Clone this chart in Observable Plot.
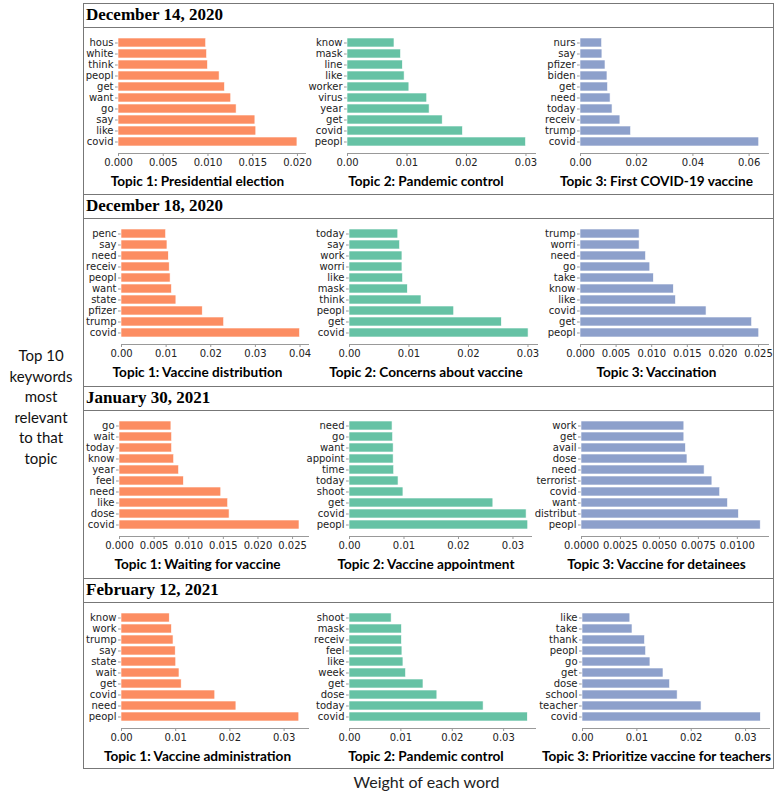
<!DOCTYPE html>
<html><head><meta charset="utf-8">
<script src="https://cdn.jsdelivr.net/npm/d3@7"></script>
<script src="https://cdn.jsdelivr.net/npm/@observablehq/plot@0.6"></script>
<style>
body{margin:0;background:#fff;}
#root{position:relative;width:777px;height:800px;overflow:hidden;font-family:Lato,"Open Sans",sans-serif;color:#111;}
.box{position:absolute;border:1px solid #777;box-sizing:border-box;}
.hline{position:absolute;height:0;border-top:1px solid #777;}
.date{position:absolute;font-family:"Liberation Serif","Times New Roman",serif;font-weight:bold;font-size:17px;line-height:22px;color:#000;}
.title{position:absolute;font-weight:bold;font-size:13.6px;line-height:16px;text-align:center;white-space:nowrap;color:#000;}
.panel{position:absolute;overflow:visible;}
#root svg [aria-label$="tick"]{stroke:#999;}
#root svg [aria-label$="line"], #root svg [aria-label="frame"]{stroke:#999;}
.side{position:absolute;left:0;width:82px;text-align:center;font-size:15px;line-height:20.6px;color:#111;}
.xlab{position:absolute;font-size:16px;color:#222;white-space:nowrap;text-align:center;}
</style></head><body><div id="root"></div><script>
// ---- data ----
const dates = ["December 14, 2020", "December 18, 2020", "January 30, 2021", "February 12, 2021"];
const topicColors = ["#fc8d62", "#66c2a5", "#8da0cb"];

const dec14Titles = ["Topic 1: Presidential election", "Topic 2: Pandemic control", "Topic 3: First COVID-19 vaccine"];
const dec14T1Words = ["hous", "white", "think", "peopl", "get", "want", "go", "say", "like", "covid"];
const dec14T1Values = [0.0098, 0.0099, 0.0100, 0.0113, 0.0119, 0.0126, 0.0132, 0.0153, 0.0154, 0.0200];
const dec14T2Words = ["know", "mask", "line", "like", "worker", "virus", "year", "get", "covid", "peopl"];
const dec14T2Values = [0.0079, 0.0090, 0.0093, 0.0096, 0.0104, 0.0134, 0.0138, 0.0160, 0.0194, 0.0300];
const dec14T3Words = ["nurs", "say", "pfizer", "biden", "get", "need", "today", "receiv", "trump", "covid"];
const dec14T3Values = [0.0077, 0.0078, 0.0089, 0.0096, 0.0098, 0.0107, 0.0114, 0.0142, 0.0180, 0.0636];

const dec18Titles = ["Topic 1: Vaccine distribution", "Topic 2: Concerns about vaccine", "Topic 3: Vaccination"];
const dec18T1Words = ["penc", "say", "need", "receiv", "peopl", "want", "state", "pfizer", "trump", "covid"];
const dec18T1Values = [0.0100, 0.0103, 0.0106, 0.0108, 0.0110, 0.0113, 0.0123, 0.0182, 0.0230, 0.0400];
const dec18T2Words = ["today", "say", "work", "worri", "like", "mask", "think", "peopl", "get", "covid"];
const dec18T2Values = [0.0082, 0.0085, 0.0089, 0.0089, 0.0090, 0.0098, 0.0121, 0.0176, 0.0256, 0.0301];
const dec18T3Words = ["trump", "worri", "need", "go", "take", "know", "like", "covid", "get", "peopl"];
const dec18T3Values = [0.0083, 0.0083, 0.0092, 0.0098, 0.0103, 0.0131, 0.0134, 0.0177, 0.0241, 0.0251];

const jan30Titles = ["Topic 1: Waiting for vaccine", "Topic 2: Vaccine appointment", "Topic 3: Vaccine for detainees"];
const jan30T1Words = ["go", "wait", "today", "know", "year", "feel", "need", "like", "dose", "covid"];
const jan30T1Values = [0.0075, 0.0076, 0.0076, 0.0079, 0.0086, 0.0093, 0.0147, 0.0157, 0.0159, 0.0260];
const jan30T2Words = ["need", "go", "want", "appoint", "time", "today", "shoot", "get", "covid", "peopl"];
const jan30T2Values = [0.0079, 0.0080, 0.0081, 0.0081, 0.0082, 0.0090, 0.0099, 0.0264, 0.0325, 0.0328];
const jan30T3Words = ["work", "get", "avail", "dose", "need", "terrorist", "covid", "want", "distribut", "peopl"];
const jan30T3Values = [0.0066, 0.0066, 0.0067, 0.0068, 0.0079, 0.0084, 0.0089, 0.0094, 0.0101, 0.0115];

const feb12Titles = ["Topic 1: Vaccine administration", "Topic 2: Pandemic control", "Topic 3: Prioritize vaccine for teachers"];
const feb12T1Words = ["know", "work", "trump", "say", "state", "wait", "get", "covid", "need", "peopl"];
const feb12T1Values = [0.0089, 0.0093, 0.0096, 0.0100, 0.0101, 0.0107, 0.0111, 0.0173, 0.0212, 0.0328];
const feb12T2Words = ["shoot", "mask", "receiv", "feel", "like", "week", "get", "dose", "today", "covid"];
const feb12T2Values = [0.0082, 0.0102, 0.0102, 0.0103, 0.0105, 0.0110, 0.0144, 0.0171, 0.0261, 0.0347];
const feb12T3Words = ["like", "take", "thank", "peopl", "go", "get", "dose", "school", "teacher", "covid"];
const feb12T3Values = [0.0088, 0.0092, 0.0115, 0.0117, 0.0125, 0.0149, 0.0161, 0.0175, 0.0219, 0.0328];

// x-axis limits and tick labels
const xLimits = [[0.0209, 0.0316, 0.0669], [0.0419, 0.0316, 0.0264], [0.0273, 0.0334, 0.0120], [0.0345, 0.0362, 0.0344]];
const xTicks = [
  [[0, 0.005, 0.010, 0.015, 0.020], [0, 0.01, 0.02, 0.03], [0, 0.02, 0.04, 0.06]],
  [[0, 0.01, 0.02, 0.03, 0.04], [0, 0.01, 0.02, 0.03], [0, 0.005, 0.010, 0.015, 0.020, 0.025]],
  [[0, 0.005, 0.010, 0.015, 0.020, 0.025], [0, 0.01, 0.02, 0.03], [0, 0.0025, 0.0050, 0.0075, 0.0100]],
  [[0, 0.01, 0.02, 0.03], [0, 0.01, 0.02, 0.03], [0, 0.01, 0.02, 0.03]]
];
const xTickDecimals = [[3, 2, 2], [2, 2, 3], [3, 2, 4], [2, 2, 2]];

const sideLabel = ["Top 10", "keywords", "most", "relevant", "to that", "topic"];
const xAxisTitle = "Weight of each word";

const rows = [
  {titles: dec14Titles, words: [dec14T1Words, dec14T2Words, dec14T3Words], values: [dec14T1Values, dec14T2Values, dec14T3Values]},
  {titles: dec18Titles, words: [dec18T1Words, dec18T2Words, dec18T3Words], values: [dec18T1Values, dec18T2Values, dec18T3Values]},
  {titles: jan30Titles, words: [jan30T1Words, jan30T2Words, jan30T3Words], values: [jan30T1Values, jan30T2Values, jan30T3Values]},
  {titles: feb12Titles, words: [feb12T1Words, feb12T2Words, feb12T3Words], values: [feb12T1Values, feb12T2Values, feb12T3Values]}
];

// ---- layout ----
const root = document.getElementById("root");
const rowTops = [3, 194, 386, 578];
const boxLeft = 83, boxRight = 773, boxBottom = 768;
const panelLeft = [84, 312, 541], panelRight = [311, 540, 772];
const axisStart = [[118, 347, 580], [121, 349, 580], [119, 349, 581], [121, 349, 582]];
const axisEnd = [[305, 535, 768], [308, 537, 768], [308, 531, 768], [308, 535, 769]];
const plotH = 150;

function el(cls, css, text) {
  const d = document.createElement("div");
  d.className = cls;
  Object.assign(d.style, css);
  if (text != null) d.textContent = text;
  root.appendChild(d);
  return d;
}

el("box", {left: boxLeft + "px", top: rowTops[0] + "px", width: (boxRight - boxLeft + 1) + "px", height: (boxBottom - rowTops[0] + 1) + "px"});

rows.forEach((row, r) => {
  const top = rowTops[r];
  if (r > 0) el("hline", {left: boxLeft + "px", top: top + "px", width: (boxRight - boxLeft) + "px"});
  el("hline", {left: boxLeft + "px", top: (top + 24) + "px", width: (boxRight - boxLeft) + "px"});
  el("date", {left: (boxLeft + 3) + "px", top: (top + 1) + "px"}, dates[r]);
  for (let c = 0; c < 3; c++) {
    const L = panelLeft[c], R = panelRight[c];
    const data = row.words[c].map((w, i) => ({word: w, value: row.values[c][i]}));
    const chart = Plot.plot({
      width: R - L,
      height: plotH,
      marginLeft: axisStart[r][c] - L,
      marginRight: R - axisEnd[r][c],
      marginTop: 2,
      marginBottom: 25,
      style: {fontFamily: "DejaVu Sans, sans-serif", fontSize: "10px", color: "#222", background: "transparent", overflow: "visible"},
      x: {domain: [0, xLimits[r][c]], ticks: xTicks[r][c], tickFormat: d3.format(`.${xTickDecimals[r][c]}f`), tickSize: 3, tickPadding: 2, line: true, label: null},
      y: {domain: row.words[c], paddingInner: 0.2, paddingOuter: 0.49, tickSize: 3, tickPadding: 2, label: null},
      marks: [
        Plot.barX(data, {x: "value", y: "word", fill: topicColors[c], stroke: "#ffffff", strokeWidth: 0.6})
      ]
    });
    const wrap = el("panel", {left: L + "px", top: (top + 25) + "px", width: (R - L) + "px", height: plotH + "px"});
    wrap.appendChild(chart);
    el("title", {left: L + "px", width: (R - L) + "px", top: (top + 170) + "px"}, row.titles[c]);
  }
});

const side = el("side", {top: "345px"});
side.innerHTML = sideLabel.join("<br>");
el("xlab", {left: "312px", width: "229px", top: "772px"}, xAxisTitle);
</script></body></html>
